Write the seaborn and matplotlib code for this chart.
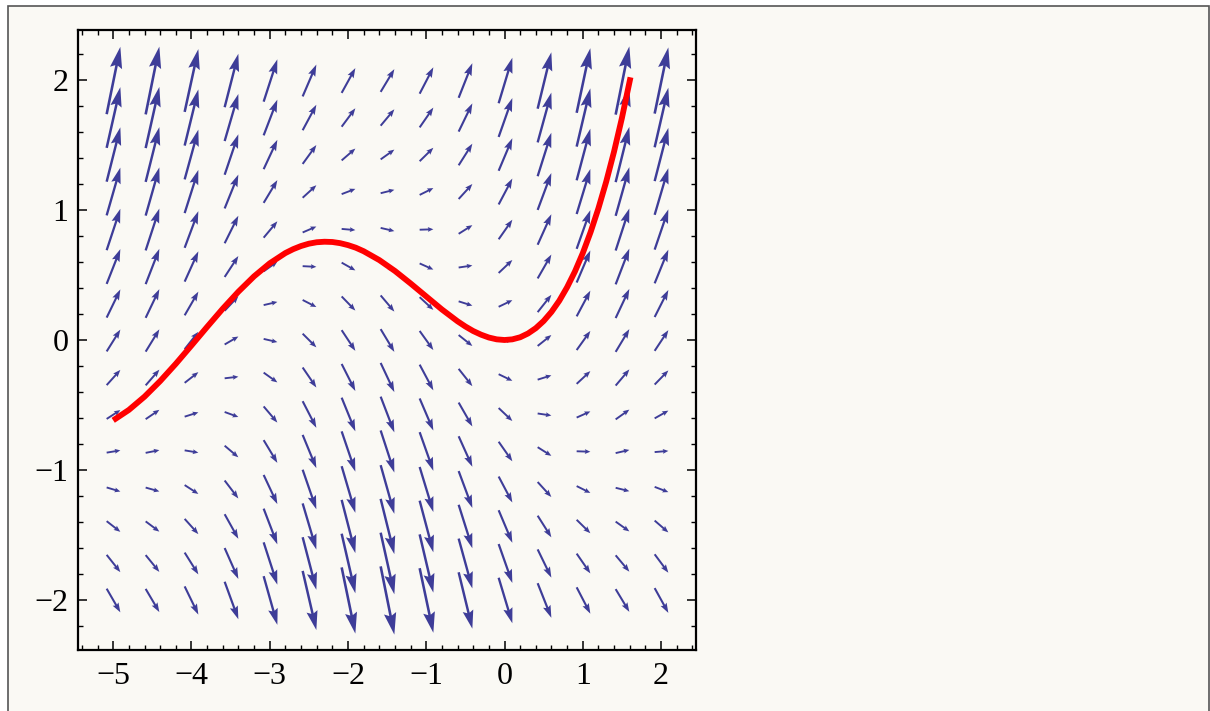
import numpy as np
import matplotlib
matplotlib.use("Agg")
import matplotlib.pyplot as plt
import seaborn as sns
from matplotlib.patches import Rectangle
from matplotlib.ticker import MultipleLocator, FixedLocator

# ---------------- data ----------------
# arrow grid positions
grid_x = [-5.0, -4.5, -4.0, -3.5, -3.0, -2.5, -2.0, -1.5, -1.0, -0.5, 0.0, 0.5, 1.0, 1.5, 2.0]
grid_y = [-2.0, -1.714, -1.429, -1.143, -0.857, -0.571, -0.286, 0.0,
          0.286, 0.571, 0.857, 1.143, 1.429, 1.714, 2.0]

# slope dy/dx of each arrow (direction = (1, slope)); one row per grid_y (bottom -> top)
slope_rows = [
    [-1.04, -1.02, -1.24, -1.65, -2.14, -2.60, -2.91, -3.00, -2.84, -2.48, -2.00, -1.52, -1.16, -1.00, -1.09],
    [-0.76, -0.74, -0.96, -1.36, -1.86, -2.31, -2.62, -2.71, -2.56, -2.19, -1.71, -1.24, -0.87, -0.72, -0.81],
    [-0.47, -0.45, -0.67, -1.08, -1.57, -2.03, -2.34, -2.43, -2.27, -1.91, -1.43, -0.95, -0.59, -0.43, -0.52],
    [-0.18, -0.17, -0.39, -0.79, -1.28, -1.74, -2.05, -2.14, -1.98, -1.62, -1.14, -0.66, -0.30, -0.15, -0.23],
    [0.10, 0.12, -0.10, -0.51, -1.00, -1.46, -1.77, -1.85, -1.70, -1.34, -0.86, -0.38, -0.02, 0.14, 0.05],
    [0.39, 0.41, 0.19, -0.22, -0.71, -1.17, -1.48, -1.57, -1.41, -1.05, -0.57, -0.09, 0.27, 0.43, 0.34],
    [0.67, 0.69, 0.47, 0.07, -0.43, -0.88, -1.19, -1.28, -1.13, -0.76, -0.29, 0.19, 0.56, 0.71, 0.62],
    [0.96, 0.98, 0.76, 0.35, -0.14, -0.60, -0.91, -1.00, -0.84, -0.48, 0.00, 0.48, 0.84, 1.00, 0.91],
    [1.24, 1.26, 1.04, 0.64, 0.14, -0.31, -0.62, -0.71, -0.56, -0.19, 0.29, 0.76, 1.13, 1.28, 1.19],
    [1.53, 1.55, 1.33, 0.92, 0.43, -0.03, -0.34, -0.43, -0.27, 0.09, 0.57, 1.05, 1.41, 1.57, 1.48],
    [1.82, 1.84, 1.61, 1.21, 0.72, 0.26, -0.05, -0.14, 0.02, 0.38, 0.86, 1.34, 1.70, 1.85, 1.77],
    [2.10, 2.12, 1.90, 1.49, 1.00, 0.55, 0.23, 0.15, 0.30, 0.66, 1.14, 1.62, 1.98, 2.14, 2.05],
    [2.39, 2.41, 2.19, 1.78, 1.29, 0.83, 0.52, 0.43, 0.59, 0.95, 1.43, 1.91, 2.27, 2.43, 2.34],
    [2.67, 2.69, 2.47, 2.07, 1.57, 1.12, 0.81, 0.72, 0.87, 1.24, 1.71, 2.19, 2.56, 2.71, 2.62],
    [2.96, 2.98, 2.76, 2.35, 1.86, 1.40, 1.09, 1.00, 1.16, 1.52, 2.00, 2.48, 2.84, 3.00, 2.91],
]

# red solution curve
curve_x = [-5.0, -4.8, -4.6, -4.4, -4.2, -4.0, -3.8, -3.6, -3.4, -3.2, -3.0, -2.8, -2.7,
           -2.6, -2.5, -2.4, -2.3, -2.2, -2.1, -2.0, -1.9, -1.8, -1.6, -1.4, -1.2, -1.0,
           -0.8, -0.6, -0.5, -0.4, -0.3, -0.2, -0.1, 0.0, 0.1, 0.2, 0.3, 0.4, 0.5, 0.6,
           0.7, 0.8, 0.9, 1.0, 1.1, 1.2, 1.3, 1.4, 1.5, 1.61]
curve_y = [-0.618, -0.538, -0.436, -0.316, -0.183, -0.042, 0.101, 0.241, 0.372, 0.490,
           0.590, 0.669, 0.699, 0.723, 0.741, 0.752, 0.756, 0.754, 0.745, 0.730, 0.710,
           0.683, 0.615, 0.531, 0.435, 0.335, 0.235, 0.144, 0.104, 0.069, 0.041, 0.019,
           0.005, 0.000, 0.005, 0.021, 0.050, 0.091, 0.146, 0.216, 0.302, 0.406, 0.527,
           0.668, 0.830, 1.013, 1.219, 1.450, 1.707, 2.021]

x_ticks = [-5, -4, -3, -2, -1, 0, 1, 2]
y_ticks = [-2, -1, 0, 1, 2]

# ---------------- style ----------------
sns.set_theme(style="ticks")
plt.rcParams['font.family'] = ['Liberation Serif', 'DejaVu Serif']
plt.rcParams['axes.unicode_minus'] = True

ARROW = '#3E3D98'
CREAM = '#FAF9F4'

W, H = 1210, 711
fig = plt.figure(figsize=(W / 100, H / 100), dpi=100)
fig.patch.set_facecolor('white')
fig.add_artist(Rectangle((8 / W, -0.05), (1208.5 - 8) / W, 1.05 - 5.5 / H,
                         transform=fig.transFigure, facecolor=CREAM,
                         edgecolor='#555555', linewidth=1.2, zorder=0))

ax_l, ax_r, ax_t, ax_b = 78, 696, 30, 650
ax = fig.add_axes([ax_l / W, 1 - ax_b / H, (ax_r - ax_l) / W, (ax_b - ax_t) / H])
ax.set_facecolor('none')

x0, x1 = -5.45, 2.447
y0, y1 = -2.385, 2.385
ax.set_xlim(x0, x1)
ax.set_ylim(y0, y1)

# pixels per data unit
sx = (ax_r - ax_l) / (x1 - x0)
sy = (ax_b - ax_t) / (y1 - y0)

c = 0.175  # arrow scale (data units per unit of vector)
for j, yv in enumerate(grid_y):
    for i, xv in enumerate(grid_x):
        f = slope_rows[j][i]
        L = c * np.hypot(sx, f * sy)
        w = 1.7 + 0.013 * L
        hl = 1.6 + 0.29 * L
        hw = 3.0 + 0.135 * L
        ax.quiver([xv], [yv], [1.0], [f], angles='xy', scale_units='xy', scale=1 / c,
                  pivot='middle', units='dots', width=w,
                  headlength=hl / w, headaxislength=0.88 * hl / w,
                  headwidth=hw / w, color=ARROW, zorder=2)

sns.lineplot(x=curve_x, y=curve_y, sort=False, estimator=None, color='#FF0000',
             linewidth=4.2, ax=ax, zorder=3, solid_capstyle='butt',
             solid_joinstyle='round')

for s in ax.spines.values():
    s.set_linewidth(1.6)
    s.set_color('black')
    s.set_visible(True)

ax.xaxis.set_major_locator(FixedLocator(x_ticks))
ax.yaxis.set_major_locator(FixedLocator(y_ticks))
ax.xaxis.set_minor_locator(MultipleLocator(0.2))
ax.yaxis.set_minor_locator(MultipleLocator(0.2))
ax.tick_params(which='both', direction='in', top=True, right=True,
               colors='black', labelsize=23)
ax.tick_params(which='major', length=6.5, width=1.1)
ax.tick_params(which='minor', length=3.6, width=1.0)
ax.tick_params(axis='x', pad=9)
ax.tick_params(axis='y', pad=7)
ax.set_xlabel('')
ax.set_ylabel('')

fig.savefig('out.png', dpi=100)
